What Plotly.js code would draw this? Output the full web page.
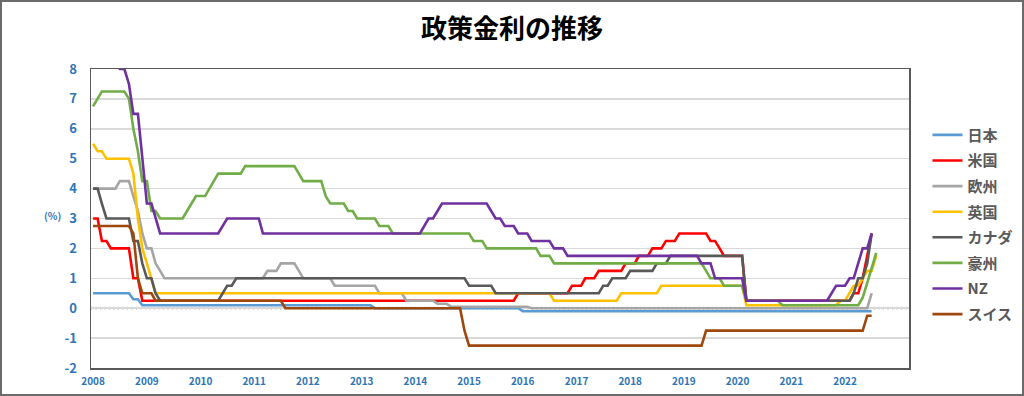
<!DOCTYPE html>
<html>
<head>
<meta charset="utf-8">
<script src="https://cdn.plot.ly/plotly-3.0.1.min.js"></script>
<style>
  html, body { margin:0; padding:0; background:#fff; }
  #wrap { position:relative; width:1024px; height:396px; }
  #chart { width:1024px; height:396px; }
  #frame { position:absolute; left:0; top:0; width:1024px; height:396px; box-sizing:border-box; border:2px solid #6b6b6b; pointer-events:none; }
</style>
</head>
<body>
<div id="wrap"><div id="chart"></div><div id="frame"></div></div>
<script>
// ---- data (end-of-month policy rates, %) ----
const seriesNames = ['日本','米国','欧州','英国','カナダ','豪州','NZ','スイス'];
const seriesColors = ['#5B9BD5','#FF0000','#A5A5A5','#FFC000','#595959','#70AD47','#7030A0','#9E480E'];

const jpDates = ['2008-01','2008-09','2008-10','2008-11','2008-12','2013-03','2013-04','2015-12','2016-01','2022-07'];
const jpRates = [0.5,0.5,0.3,0.3,0.1,0.1,0.0,0.0,-0.1,-0.1];

const usDates = ['2008-01','2008-02','2008-03','2008-04','2008-05','2008-09','2008-10','2008-11','2008-12','2015-11','2015-12','2016-11','2016-12','2017-02','2017-03','2017-05','2017-06','2017-11','2017-12','2018-02','2018-03','2018-05','2018-06','2018-08','2018-09','2018-11','2018-12','2019-06','2019-07','2019-08','2019-09','2019-10','2020-02','2020-03','2022-02','2022-03','2022-04','2022-05','2022-06','2022-07'];
const usRates = [3.0,3.0,2.25,2.25,2.0,2.0,1.0,1.0,0.25,0.25,0.5,0.5,0.75,0.75,1.0,1.0,1.25,1.25,1.5,1.5,1.75,1.75,2.0,2.0,2.25,2.25,2.5,2.5,2.25,2.25,2.0,1.75,1.75,0.25,0.25,0.5,0.5,1.0,1.75,2.5];

const euDates = ['2008-01','2008-06','2008-07','2008-09','2008-10','2008-11','2008-12','2009-01','2009-02','2009-03','2009-04','2009-05','2011-03','2011-04','2011-06','2011-07','2011-10','2011-11','2011-12','2012-06','2012-07','2013-04','2013-05','2013-10','2013-11','2014-05','2014-06','2014-08','2014-09','2016-02','2016-03','2022-06','2022-07'];
const euRates = [4.0,4.0,4.25,4.25,3.75,3.25,2.5,2.0,2.0,1.5,1.25,1.0,1.0,1.25,1.25,1.5,1.5,1.25,1.0,1.0,0.75,0.75,0.5,0.5,0.25,0.25,0.15,0.15,0.05,0.05,0.0,0.0,0.5];

const ukDates = ['2008-01','2008-02','2008-03','2008-04','2008-09','2008-10','2008-11','2008-12','2009-01','2009-02','2009-03','2016-07','2016-08','2017-10','2017-11','2018-07','2018-08','2020-02','2020-03','2021-11','2021-12','2022-01','2022-02','2022-03','2022-04','2022-05','2022-06','2022-07','2022-08'];
const ukRates = [5.5,5.25,5.25,5.0,5.0,4.5,3.0,2.0,1.5,1.0,0.5,0.5,0.25,0.25,0.5,0.5,0.75,0.75,0.1,0.1,0.25,0.25,0.5,0.75,0.75,1.0,1.25,1.25,1.75];

const caDates = ['2008-01','2008-02','2008-03','2008-04','2008-09','2008-10','2008-11','2008-12','2009-01','2009-02','2009-03','2009-04','2010-05','2010-06','2010-07','2010-08','2010-09','2014-12','2015-01','2015-06','2015-07','2017-06','2017-07','2017-08','2017-09','2017-12','2018-01','2018-06','2018-07','2018-09','2018-10','2020-02','2020-03','2022-02','2022-03','2022-04','2022-05','2022-06','2022-07'];
const caRates = [4.0,4.0,3.5,3.0,3.0,2.25,2.25,1.5,1.0,1.0,0.5,0.25,0.25,0.5,0.75,0.75,1.0,1.0,0.75,0.75,0.5,0.5,0.75,0.75,1.0,1.0,1.25,1.25,1.5,1.5,1.75,1.75,0.25,0.25,0.5,1.0,1.0,1.5,2.5];

const auDates = ['2008-01','2008-02','2008-03','2008-08','2008-09','2008-10','2008-11','2008-12','2009-01','2009-02','2009-03','2009-04','2009-09','2009-10','2009-11','2009-12','2010-02','2010-03','2010-04','2010-05','2010-10','2010-11','2011-10','2011-11','2011-12','2012-04','2012-05','2012-06','2012-09','2012-10','2012-11','2012-12','2013-04','2013-05','2013-07','2013-08','2015-01','2015-02','2015-04','2015-05','2016-04','2016-05','2016-07','2016-08','2019-05','2019-06','2019-07','2019-09','2019-10','2020-02','2020-03','2020-10','2020-11','2022-04','2022-05','2022-06','2022-07','2022-08'];
const auRates = [6.75,7.0,7.25,7.25,7.0,6.0,5.25,4.25,4.25,3.25,3.25,3.0,3.0,3.25,3.5,3.75,3.75,4.0,4.25,4.5,4.5,4.75,4.75,4.5,4.25,4.25,3.75,3.5,3.5,3.25,3.25,3.0,3.0,2.75,2.75,2.5,2.5,2.25,2.25,2.0,2.0,1.75,1.75,1.5,1.5,1.25,1.0,1.0,0.75,0.75,0.25,0.25,0.1,0.1,0.35,0.85,1.35,1.85];

const nzDates = ['2008-01','2008-06','2008-07','2008-08','2008-09','2008-10','2008-11','2008-12','2009-01','2009-02','2009-03','2009-04','2010-05','2010-06','2010-07','2011-02','2011-03','2014-02','2014-03','2014-04','2014-05','2014-06','2014-07','2015-05','2015-06','2015-07','2015-08','2015-09','2015-11','2015-12','2016-02','2016-03','2016-07','2016-08','2016-10','2016-11','2019-04','2019-05','2019-07','2019-08','2020-02','2020-03','2021-09','2021-10','2021-11','2022-01','2022-02','2022-03','2022-04','2022-05','2022-06','2022-07'];
const nzRates = [8.25,8.25,8.0,8.0,7.5,6.5,6.5,5.0,3.5,3.5,3.0,2.5,2.5,2.75,3.0,3.0,2.5,2.5,2.75,3.0,3.0,3.25,3.5,3.5,3.25,3.0,3.0,2.75,2.75,2.5,2.5,2.25,2.25,2.0,2.0,1.75,1.75,1.5,1.5,1.0,1.0,0.25,0.25,0.5,0.75,0.75,1.0,1.0,1.5,2.0,2.0,2.5];

const chDates = ['2008-01','2008-09','2008-10','2008-11','2008-12','2009-02','2009-03','2011-07','2011-08','2014-11','2014-12','2015-01','2019-05','2019-06','2022-05','2022-06','2022-07'];
const chRates = [2.75,2.75,2.5,1.0,0.5,0.5,0.25,0.25,0.0,0.0,-0.75,-1.25,-1.25,-0.75,-0.75,-0.25,-0.25];

const yearTicks = ['2008','2009','2010','2011','2012','2013','2014','2015','2016','2017','2018','2019','2020','2021','2022'];
const rateTickVals = [-2,-1,0,1,2,3,4,5,6,7,8];
const rateTickText = ['-2','-1','0','1','2','3','4','5','6','7','8'];

// ---- chart ----
const allDates = [jpDates, usDates, euDates, ukDates, caDates, auDates, nzDates, chDates];
const allRates = [jpRates, usRates, euRates, ukRates, caRates, auRates, nzRates, chRates];

const FONT = '"Noto Sans CJK JP", "Noto Sans", sans-serif';
const BLUE = '#2E75B6';

const traces = seriesNames.map((nm, i) => ({
  type: 'scatter', mode: 'lines', name: nm, legendgroup: nm,
  x: allDates[i], y: allRates[i],
  line: { color: seriesColors[i], width: 2.6 },
  hoverinfo: 'x+y+name'
}));

const layout = {
  width: 1024, height: 396,
  margin: { l: 91, r: 115, t: 69, b: 28, autoexpand: false },
  paper_bgcolor: '#ffffff', plot_bgcolor: '#ffffff',
  showlegend: true,
  title: { text: '政策金利の推移', x: 0.5, xanchor: 'center', y: 0.927, yanchor: 'middle',
           font: { family: FONT, size: 26, color: '#000000', weight: 'bold' } },
  xaxis: {
    type: 'date', range: ['2007-12-18', '2023-03-12'],
    tickvals: yearTicks.map(y => y + '-01-01'), ticktext: yearTicks,
    showgrid: false, zeroline: false,
    showline: true, mirror: true, linecolor: '#595959', linewidth: 1.5,
    ticks: '', ticklabelstandoff: 3,
    tickfont: { family: FONT, size: 10, color: BLUE, weight: 'bold' }
  },
  yaxis: {
    range: [-2, 8], tickvals: rateTickVals, ticktext: rateTickText,
    showgrid: true, gridcolor: '#D9D9D9', gridwidth: 1.5, zeroline: false,
    showline: true, mirror: true, linecolor: '#595959', linewidth: 1.5,
    ticks: '', ticklabelstandoff: 10,
    tickfont: { family: FONT, size: 13, color: BLUE, weight: 'bold' }
  },
  legend: {
    x: 1.0226, xanchor: 'left', y: 0.834, yanchor: 'top',
    bgcolor: 'rgba(0,0,0,0)', borderwidth: 0,
    tracegroupgap: 3.1, itemwidth: 30,
    font: { family: FONT, size: 15, color: '#595959', weight: 'bold' }
  },
  shapes: [{
    type: 'line', xref: 'paper', yref: 'y', x0: 0, x1: 1, y0: 0, y1: 0,
    layer: 'below', line: { color: '#BFBFBF', width: 3, dash: '1px,3.5px' }
  }],
  annotations: [{
    text: '(%)', xref: 'paper', yref: 'y', x: -0.047, y: 3.1,
    xanchor: 'center', yanchor: 'middle', showarrow: false,
    font: { family: FONT, size: 10, color: BLUE, weight: 'bold' }
  }]
};

Plotly.newPlot('chart', traces, layout, { displayModeBar: false, staticPlot: true });
</script>
</body>
</html>
